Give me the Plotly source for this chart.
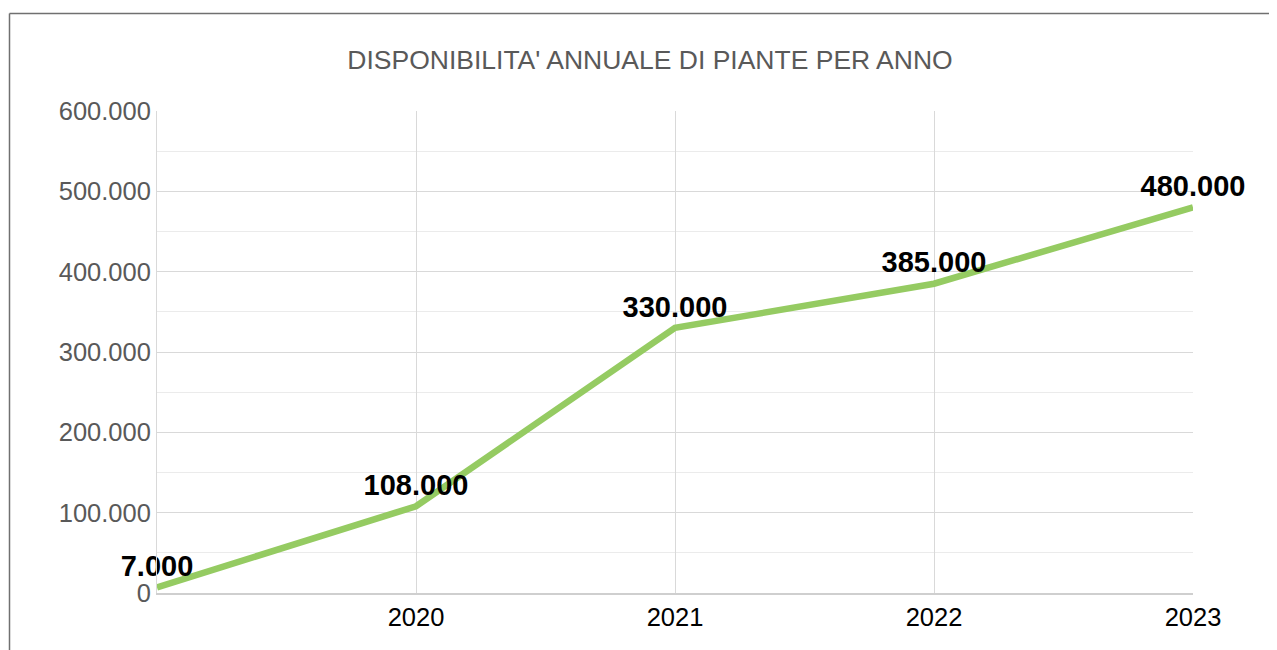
import plotly.graph_objects as go

categories = ["", "2020", "2021", "2022", "2023"]
values = [7000, 108000, 330000, 385000, 480000]
y_ticks = [0, 100000, 200000, 300000, 400000, 500000, 600000]
title_text = "DISPONIBILITA' ANNUALE DI PIANTE PER ANNO"

# page body has an 8px margin: work in page pixels, convert to figure pixels
OFF = 8
PW, PH = 1277, 650
W, H = PW - OFF, PH - OFF
L, R, T, B = 157 - OFF, PW - 1193, 111 - OFF, PH - 593
pw, ph = W - L - R, H - T - B

def px(x):
    return (x - OFF - L) / pw

def py(y):
    return (H - B - (y - OFF)) / ph

xs = list(range(len(categories)))

fig = go.Figure()
fig.add_trace(go.Scatter(
    x=xs, y=values, mode="lines+markers+text",
    line=dict(color="#95CB62", width=6.5),
    marker=dict(size=5, opacity=0, color="#95CB62"),
    texttemplate="%{y:,d}", textposition="top center",
    textfont=dict(family="Liberation Sans, Arial, sans-serif", size=29, color="#000000", weight="bold"),
    cliponaxis=False, hoverinfo="skip", showlegend=False,
))

fig.update_layout(
    width=W, height=H,
    margin=dict(l=L, r=R, t=T, b=B),
    paper_bgcolor="white", plot_bgcolor="white",
    separators=",.",
    font=dict(family="Liberation Sans, Arial, sans-serif"),
    title=dict(text=title_text, x=((347 + 953) / 2 - OFF) / W, xanchor="center",
               y=1 - (60 - OFF) / H, yanchor="middle",
               font=dict(size=26.5, color="#595959")),
    xaxis=dict(
        tickmode="array", tickvals=xs, ticktext=categories,
        range=[0, len(categories) - 1],
        showgrid=True, gridcolor="#D9D9D9", gridwidth=1,
        showline=True, linecolor="#CFCFCF", linewidth=2,
        zeroline=False, ticks="",
        tickfont=dict(size=25.5, color="#000000"),
        fixedrange=True,
    ),
    yaxis=dict(
        tickmode="array", tickvals=y_ticks,
        range=[0, 600000], tickformat=",d",
        showgrid=True, gridcolor="#D9D9D9", gridwidth=1,
        minor=dict(dtick=50000, showgrid=True, gridcolor="#EBEBEB", gridwidth=1),
        showline=True, linecolor="#D9D9D9", linewidth=1,
        zeroline=False, ticks="",
        tickfont=dict(size=25.5, color="#595959"),
        fixedrange=True,
    ),
    shapes=[
        dict(type="line", xref="paper", yref="paper",
             x0=px(9.5), x1=px(PW + 10), y0=py(13.5), y1=py(13.5),
             line=dict(color="#707070", width=1.5)),
        dict(type="line", xref="paper", yref="paper",
             x0=px(9.5), x1=px(9.5), y0=py(13.5), y1=py(PH + 10),
             line=dict(color="#707070", width=1.5)),
    ],
)

fig.write_html("out.html")
